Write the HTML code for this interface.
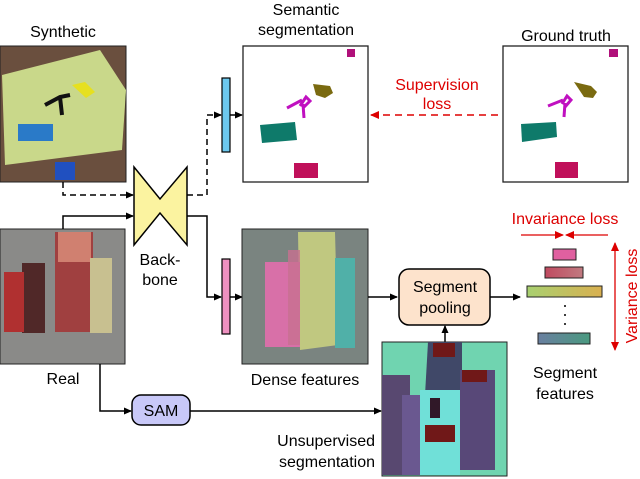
<!DOCTYPE html>
<html><head><style>
html,body{margin:0;padding:0;background:#fff;}
svg{display:block;font-family:"Liberation Sans",Arial,sans-serif;}
</style></head><body>
<svg width="640" height="479" viewBox="0 0 640 479" xmlns="http://www.w3.org/2000/svg">
<defs>
<marker id="ak" markerWidth="8" markerHeight="8" refX="7" refY="4" orient="auto" markerUnits="userSpaceOnUse"><path d="M0,0.5 L8,4 L0,7.5 Z" fill="#000"/></marker>
<marker id="ar" markerWidth="9" markerHeight="9" refX="8" refY="4.5" orient="auto" markerUnits="userSpaceOnUse"><path d="M0,0.5 L9,4.5 L0,8.5 Z" fill="#d00"/></marker>
<linearGradient id="g1" x1="0" x2="1"><stop offset="0" stop-color="#a8d070"/><stop offset="1" stop-color="#d9b050"/></linearGradient>
<linearGradient id="g2" x1="0" x2="1"><stop offset="0" stop-color="#c04a60"/><stop offset="1" stop-color="#c07a80"/></linearGradient>
<linearGradient id="g3" x1="0" x2="1"><stop offset="0" stop-color="#6a7fa0"/><stop offset="1" stop-color="#4a9a80"/></linearGradient>
</defs>

<!-- Synthetic image -->
<text x="63" y="37" font-size="16" text-anchor="middle">Synthetic</text>
<rect x="0" y="46" width="126" height="136" fill="#6a4f3e" stroke="#222"/>
<polygon points="2,75 100,50 126,90 122,150 5,165" fill="#c9d88a"/>
<path d="M45,105 L60,97 L70,95 M60,97 L62,115" stroke="#111" stroke-width="4" fill="none"/>
<polygon points="72,85 85,82 95,92 86,98" fill="#e6e020"/>
<rect x="18" y="124" width="35" height="17" fill="#2a7ac8"/>
<rect x="55" y="162" width="20" height="18" fill="#2050c0"/>

<!-- Real image -->
<rect x="0" y="229" width="125" height="135" fill="#8a8a88" stroke="#222"/>
<rect x="55" y="232" width="38" height="100" fill="#a04040"/>
<rect x="58" y="232" width="33" height="30" fill="#d08070"/>
<rect x="90" y="258" width="22" height="75" fill="#c8c090"/>
<rect x="22" y="263" width="23" height="70" fill="#502828"/>
<rect x="4" y="272" width="20" height="60" fill="#b03030"/>

<!-- connectors to backbone -->
<path d="M63,182 V195 H133" stroke="#000" stroke-width="1.5" fill="none" stroke-dasharray="6,4" marker-end="url(#ak)"/>
<path d="M63,229 V216 H133" stroke="#000" stroke-width="1.5" fill="none" marker-end="url(#ak)"/>

<!-- backbone -->
<polygon points="134,167 160,199 187,167 187,245 160,213 134,245" fill="#fbf3a0" stroke="#000" stroke-width="1.5" stroke-linejoin="miter"/>
<text x="160" y="265" font-size="16" text-anchor="middle">Back-</text>
<text x="160" y="285" font-size="16" text-anchor="middle">bone</text>

<!-- upper branch -->
<path d="M187,195 H207 V115 H221" stroke="#000" stroke-width="1.5" fill="none" stroke-dasharray="6,4" marker-end="url(#ak)"/>
<rect x="222" y="78" width="8" height="74" fill="#6cc8ee" stroke="#000" stroke-width="1.2"/>
<line x1="230" y1="115" x2="242" y2="115" stroke="#000" stroke-width="1.5" marker-end="url(#ak)"/>

<!-- lower branch -->
<path d="M187,216 H207 V297 H221" stroke="#000" stroke-width="1.5" fill="none" marker-end="url(#ak)"/>
<rect x="222" y="259" width="8" height="75" fill="#ee90c0" stroke="#000" stroke-width="1.2"/>
<line x1="230" y1="297" x2="242" y2="297" stroke="#000" stroke-width="1.5" marker-end="url(#ak)"/>

<!-- semantic segmentation -->
<text x="306" y="15" font-size="16" text-anchor="middle">Semantic</text>
<text x="306" y="35" font-size="16" text-anchor="middle">segmentation</text>
<rect x="243" y="46" width="125" height="136" fill="#fff" stroke="#222" stroke-width="1.3"/>
<rect x="347" y="49" width="8" height="8" fill="#b0107a"/>
<polygon points="313,84 330,86 333,93 325,98 316,95" fill="#7a6a10"/>
<path d="M287,108 L302,100 M300,106 L306,97 L310,101 L303,108 M303,104 L304,118" stroke="#c010c0" stroke-width="3" fill="none"/>
<polygon points="260,125 295,122 297,140 262,143" fill="#0e7a6a"/>
<rect x="294" y="163" width="24" height="15" fill="#c0105a"/>

<!-- ground truth -->
<text x="566" y="41" font-size="16" text-anchor="middle">Ground truth</text>
<rect x="503" y="46" width="125" height="136" fill="#fff" stroke="#222" stroke-width="1.3"/>
<rect x="609" y="49" width="9" height="8" fill="#b0107a"/>
<polygon points="574,82 591,86 597,92 593,98 584,97" fill="#7a6a10"/>
<path d="M548,106 L563,100 M562,104 L567,96 L571,100 L565,107 M565,103 L564,117" stroke="#c010c0" stroke-width="3" fill="none"/>
<polygon points="521,124 556,122 557,137 522,142" fill="#0e7a6a"/>
<rect x="555" y="162" width="23" height="16" fill="#c0105a"/>

<!-- supervision loss -->
<line x1="498" y1="115" x2="371" y2="115" stroke="#d00" stroke-width="1.5" stroke-dasharray="7,5" marker-end="url(#ar)"/>
<text x="437" y="90" font-size="16" fill="#d00" text-anchor="middle">Supervision</text>
<text x="437" y="109" font-size="16" fill="#d00" text-anchor="middle">loss</text>

<!-- dense features -->
<rect x="242" y="229" width="126" height="135" fill="#7a8480" stroke="#222"/>
<polygon points="298,232 335,232 338,345 300,350" fill="#c0c880"/>
<rect x="265" y="262" width="35" height="85" fill="#d870a8"/>
<rect x="335" y="258" width="20" height="90" fill="#50b0a8"/>
<rect x="288" y="250" width="12" height="95" fill="#c87090" opacity="0.8"/>
<text x="305" y="385" font-size="16" text-anchor="middle">Dense features</text>

<!-- segment pooling -->
<line x1="368" y1="297" x2="397" y2="297" stroke="#000" stroke-width="1.5" marker-end="url(#ak)"/>
<rect x="399" y="269" width="91" height="56" rx="10" fill="#fde3cc" stroke="#000" stroke-width="1.5"/>
<text x="445" y="292" font-size="16" text-anchor="middle">Segment</text>
<text x="445" y="313" font-size="16" text-anchor="middle">pooling</text>
<line x1="490" y1="297" x2="520" y2="297" stroke="#000" stroke-width="1.5" marker-end="url(#ak)"/>
<line x1="445" y1="342" x2="445" y2="326" stroke="#000" stroke-width="1.5" marker-end="url(#ak)"/>

<!-- segment features -->
<text x="565" y="224" font-size="16" fill="#d00" text-anchor="middle">Invariance loss</text>
<line x1="521" y1="235" x2="563" y2="235" stroke="#d00" stroke-width="1.3" marker-end="url(#ar)"/>
<line x1="608" y1="235" x2="566" y2="235" stroke="#d00" stroke-width="1.3" marker-end="url(#ar)"/>
<rect x="553" y="249" width="23" height="11" fill="#e060a0" stroke="#222"/>
<rect x="545" y="267" width="38" height="11" fill="url(#g2)" stroke="#222"/>
<rect x="527" y="286" width="75" height="11" fill="url(#g1)" stroke="#222"/>
<circle cx="565" cy="306" r="1" fill="#000"/>
<circle cx="565" cy="315" r="1" fill="#000"/>
<circle cx="565" cy="324" r="1" fill="#000"/>
<rect x="538" y="333" width="52" height="11" fill="url(#g3)" stroke="#222"/>
<line x1="615" y1="296" x2="615" y2="243" stroke="#d00" stroke-width="1.3" marker-end="url(#ar)"/>
<line x1="615" y1="296" x2="615" y2="350" stroke="#d00" stroke-width="1.3" marker-end="url(#ar)"/>
<text x="0" y="0" font-size="16" fill="#d00" text-anchor="middle" transform="translate(637,296) rotate(-90)">Variance loss</text>
<text x="565" y="378" font-size="16" text-anchor="middle">Segment</text>
<text x="565" y="399" font-size="16" text-anchor="middle">features</text>

<!-- SAM -->
<text x="63" y="384" font-size="16" text-anchor="middle">Real</text>
<path d="M100,364 V411 H131" stroke="#000" stroke-width="1.5" fill="none" marker-end="url(#ak)"/>
<rect x="132" y="395" width="58" height="30" rx="9" fill="#c8c8f8" stroke="#000" stroke-width="1.5"/>
<text x="161" y="416" font-size="16" text-anchor="middle">SAM</text>
<line x1="190" y1="411" x2="381" y2="411" stroke="#000" stroke-width="1.5" marker-end="url(#ak)"/>

<!-- unsupervised segmentation -->
<rect x="382" y="342" width="125" height="134" fill="#70d4b0" stroke="#222"/>
<polygon points="428,342 462,342 462,390 425,395" fill="#404868"/>
<rect x="433" y="343" width="22" height="14" fill="#701818"/>
<rect x="382" y="375" width="28" height="100" fill="#584870"/>
<rect x="402" y="395" width="20" height="80" fill="#6a5890"/>
<rect x="420" y="390" width="40" height="85" fill="#70e0d8"/>
<rect x="430" y="398" width="10" height="20" fill="#301828"/>
<rect x="425" y="425" width="30" height="17" fill="#701818"/>
<rect x="460" y="370" width="35" height="100" fill="#584878"/>
<rect x="462" y="370" width="25" height="12" fill="#701818"/>
<text x="375" y="446" font-size="16" text-anchor="end">Unsupervised</text>
<text x="375" y="467" font-size="16" text-anchor="end">segmentation</text>
</svg>
</body></html>
